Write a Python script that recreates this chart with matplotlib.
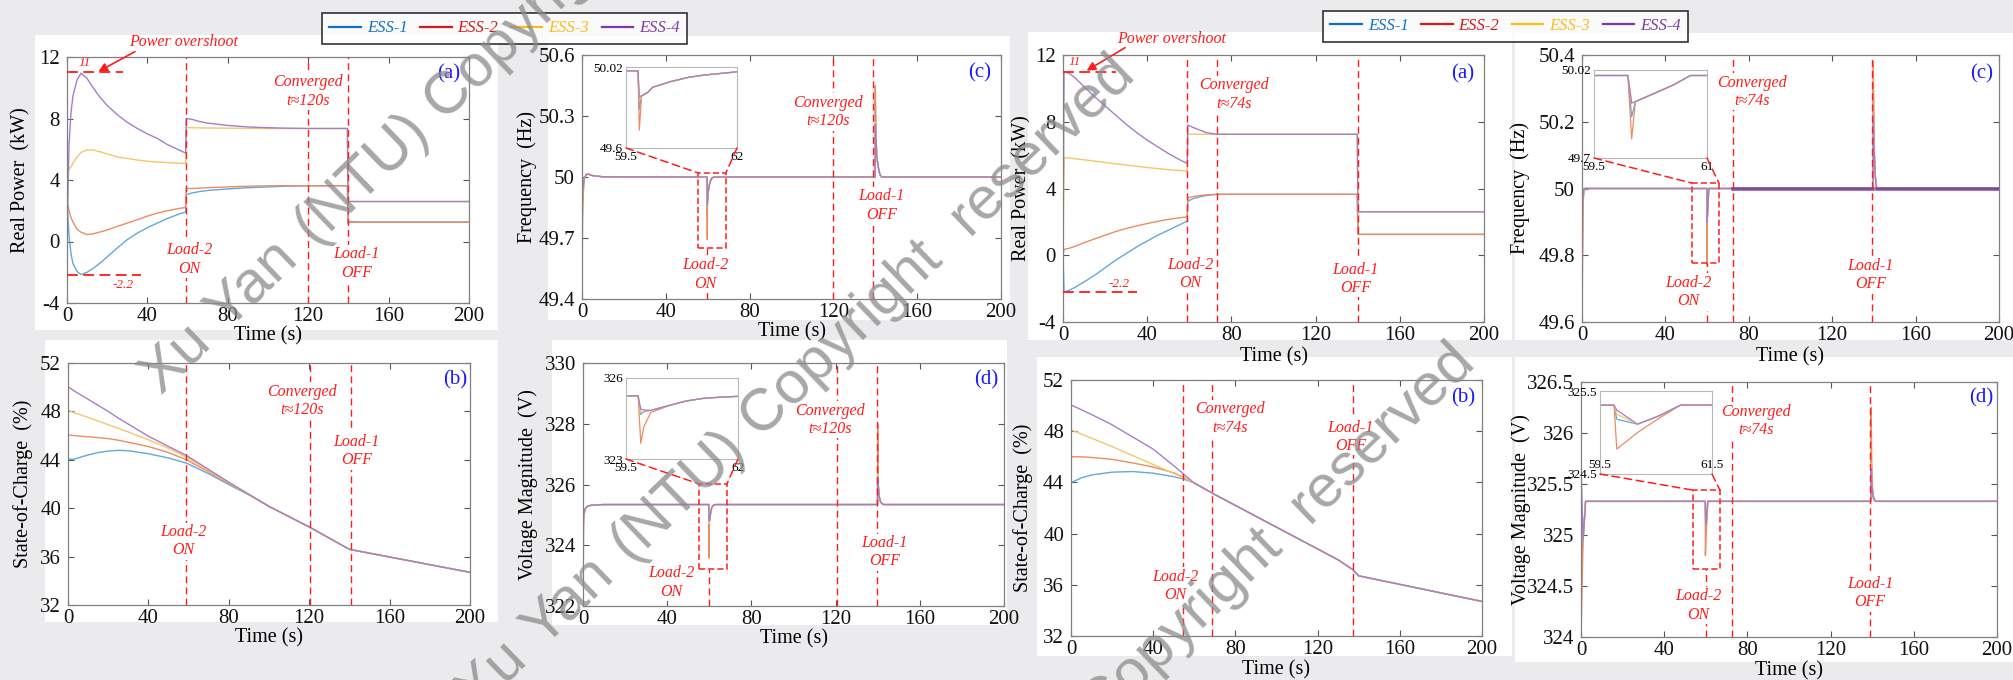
import numpy as np
import matplotlib
matplotlib.use('Agg')
import matplotlib.pyplot as plt
from matplotlib.lines import Line2D
from matplotlib.patches import Rectangle, ConnectionPatch
from matplotlib.ticker import FormatStrFormatter

W, H = 2013, 680
plt.rcParams['font.family'] = ['Liberation Serif', 'DejaVu Serif']
plt.rcParams['axes.unicode_minus'] = False

ESS_LABELS = ['ESS-1', 'ESS-2', 'ESS-3', 'ESS-4']
LEGEND_COLORS = ['#1071c4', '#d7191c', '#fdbb1a', '#7b3aa6']
LINE_COLORS = ['#62a8da', '#ec8c62', '#f4c76a', '#a67ec4']
RED = '#ff1c1c'

# ---------------- case 1: slow consensus (converged t ~ 120 s) ----------------
slow_power_t = [0, 1, 2, 3, 5, 7, 10, 13, 16, 20, 25, 30, 35, 40, 45, 50, 55, 59, 59.3,
                62, 66, 70, 80, 90, 100, 110, 120, 139.5, 139.8, 141, 145, 200]
slow_power = [
    [2.5, 0.4, -0.8, -1.45, -1.95, -2.15, -2.0, -1.75, -1.45, -1.0, -0.42, 0.12, 0.55, 0.9, 1.2,
     1.5, 1.75, 1.92, 3.05, 3.15, 3.25, 3.32, 3.42, 3.5, 3.55, 3.6, 3.62, 3.63, 1.15, 1.3, 1.27, 1.27],
    [2.6, 2.0, 1.55, 1.25, 0.8, 0.6, 0.45, 0.5, 0.6, 0.75, 0.98, 1.2, 1.42, 1.65, 1.85,
     2.0, 2.13, 2.22, 3.45, 3.45, 3.47, 3.5, 3.55, 3.6, 3.62, 3.63, 3.63, 3.63, 1.25, 1.25, 1.25, 1.25],
    [4.6, 4.7, 4.85, 5.1, 5.5, 5.8, 5.95, 5.95, 5.85, 5.7, 5.5, 5.4, 5.3, 5.22, 5.17,
     5.13, 5.1, 5.08, 7.4, 7.4, 7.39, 7.38, 7.37, 7.36, 7.35, 7.35, 7.35, 7.35, 2.6, 2.6, 2.6, 2.6],
    [0.0, 6.3, 8.4, 9.5, 10.5, 10.95, 10.6, 10.0, 9.45, 8.85, 8.25, 7.75, 7.35, 7.0, 6.7,
     6.3, 6.0, 5.75, 8.0, 7.95, 7.8, 7.7, 7.55, 7.45, 7.4, 7.37, 7.35, 7.35, 2.6, 2.6, 2.6, 2.6],
]

slow_soc_t = [0, 3, 10, 15, 20, 25, 30, 40, 50, 59, 70, 80, 90, 100, 120, 140, 200]
slow_soc = [
    [44.05, 44.05, 44.4, 44.6, 44.72, 44.78, 44.75, 44.5, 44.15, 43.72, 42.85, 41.95, 41.1, 40.15, 38.45, 36.6, 34.7],
    [46.05, 46.0, 45.9, 45.83, 45.75, 45.62, 45.45, 45.1, 44.6, 44.0, 43.0, 42.05, 41.12, 40.15, 38.45, 36.6, 34.7],
    [48.1, 47.9, 47.5, 47.2, 46.9, 46.6, 46.3, 45.65, 44.95, 44.2, 43.1, 42.1, 41.13, 40.15, 38.45, 36.6, 34.7],
    [50.05, 49.7, 49.0, 48.5, 48.0, 47.45, 46.95, 45.95, 45.1, 44.35, 43.2, 42.15, 41.15, 40.15, 38.45, 36.6, 34.7],
]

slow_freq_t = [0, 0.3, 1, 2, 3, 5, 10, 59.77, 59.8, 59.85, 60.0, 60.1, 60.5, 60.9, 61.25, 62, 63,
               139.9, 140.0, 140.3, 140.7, 141.4, 142.2, 143, 200]
slow_freq = [
    [49.6, 49.9, 49.99, 50.012, 50.014, 50.007, 50.001, 50.0, 49.80, 49.87, 49.89, 49.915, 49.944,
     49.966, 49.978, 49.995, 50.0, 50.0, 50.38, 50.21, 50.1, 50.05, 50.012, 50.0, 50.0],
    [49.44, 49.85, 49.99, 50.012, 50.014, 50.007, 50.001, 50.0, 49.693, 49.87, 49.89, 49.915, 49.944,
     49.966, 49.978, 49.995, 50.0, 50.0, 50.45, 50.22, 50.1, 50.05, 50.012, 50.0, 50.0],
    [49.69, 49.92, 49.99, 50.012, 50.014, 50.007, 50.001, 50.0, 49.865, 49.87, 49.89, 49.915, 49.944,
     49.966, 49.978, 49.995, 50.0, 50.0, 50.27, 50.2, 50.1, 50.05, 50.012, 50.0, 50.0],
    [49.72, 49.93, 49.99, 50.012, 50.014, 50.007, 50.001, 50.0, 49.866, 49.87, 49.89, 49.915, 49.944,
     49.966, 49.978, 49.995, 50.0, 50.0, 50.26, 50.2, 50.1, 50.05, 50.012, 50.0, 50.0],
]

slow_volt_t = [0, 0.3, 1, 2, 4, 10, 59.77, 59.83, 59.9, 60.05, 60.5, 60.85, 61.2, 61.6, 62, 63,
               139.9, 140.0, 140.3, 140.7, 141.4, 142.2, 143, 200]
slow_volt = [
    [323.8, 325.0, 325.2, 325.28, 325.32, 325.34, 325.34, 324.65, 324.75, 324.8, 325.0, 325.15,
     325.24, 325.29, 325.32, 325.34, 325.34, 327.2, 325.95, 325.6, 325.42, 325.36, 325.34, 325.34],
    [322.0, 324.85, 325.2, 325.28, 325.32, 325.34, 325.34, 323.58, 324.2, 324.72, 325.0, 325.15,
     325.24, 325.29, 325.32, 325.34, 325.34, 328.0, 326.05, 325.62, 325.42, 325.36, 325.34, 325.34],
    [324.0, 325.0, 325.2, 325.28, 325.32, 325.34, 325.34, 324.72, 324.78, 324.8, 325.0, 325.15,
     325.24, 325.29, 325.32, 325.34, 325.34, 326.35, 325.9, 325.6, 325.42, 325.36, 325.34, 325.34],
    [324.45, 325.0, 325.2, 325.28, 325.32, 325.34, 325.34, 324.85, 324.82, 324.8, 325.0, 325.15,
     325.24, 325.29, 325.32, 325.34, 325.34, 326.25, 325.9, 325.6, 325.42, 325.36, 325.34, 325.34],
]

# ---------------- case 2: fast consensus (converged t ~ 74 s) ----------------
fast_power_t = [0, 0.5, 3, 6, 10, 15, 20, 25, 30, 35, 40, 45, 50, 55, 59, 59.3,
                62, 65, 68, 73, 100, 139.8, 140.1, 200]
fast_power = [
    [0.0, -2.2, -2.1, -1.9, -1.6, -1.2, -0.75, -0.3, 0.1, 0.5, 0.85, 1.2, 1.5, 1.8, 2.05, 3.25,
     3.4, 3.5, 3.58, 3.65, 3.65, 3.65, 1.25, 1.25],
    [0.0, 0.35, 0.42, 0.55, 0.75, 0.98, 1.2, 1.42, 1.6, 1.76, 1.9, 2.03, 2.15, 2.24, 2.3, 3.45,
     3.52, 3.58, 3.62, 3.65, 3.65, 3.65, 1.25, 1.25],
    [0.0, 5.85, 5.83, 5.78, 5.72, 5.64, 5.56, 5.48, 5.4, 5.33, 5.26, 5.19, 5.13, 5.08, 5.05, 7.25,
     7.25, 7.25, 7.25, 7.25, 7.25, 7.25, 2.6, 2.6],
    [0.0, 11.0, 10.9, 10.6, 10.1, 9.5, 8.95, 8.4, 7.85, 7.35, 6.9, 6.5, 6.1, 5.75, 5.5, 7.8,
     7.65, 7.5, 7.35, 7.25, 7.25, 7.25, 2.6, 2.6],
]

fast_soc_t = [0, 5, 10, 20, 30, 40, 50, 55, 60, 70, 80, 90, 100, 110, 120, 130, 137, 140, 200]
fast_soc = [
    [43.98, 44.35, 44.58, 44.8, 44.85, 44.72, 44.45, 44.25, 43.95, 43.05, 42.2, 41.35, 40.5, 39.65, 38.8, 37.95, 37.2, 36.7, 34.7],
    [46.0, 46.0, 45.95, 45.8, 45.52, 45.2, 44.75, 44.4, 43.95, 43.05, 42.2, 41.35, 40.5, 39.65, 38.8, 37.95, 37.2, 36.7, 34.7],
    [48.1, 47.78, 47.45, 46.8, 46.1, 45.4, 44.7, 44.35, 43.95, 43.05, 42.2, 41.35, 40.5, 39.65, 38.8, 37.95, 37.2, 36.7, 34.7],
    [50.05, 49.68, 49.3, 48.5, 47.55, 46.6, 45.3, 44.62, 43.95, 43.05, 42.2, 41.35, 40.5, 39.65, 38.8, 37.95, 37.2, 36.7, 34.7],
]

fast_freq_t = [0, 0.5, 1, 59.95, 60.0, 60.05, 60.3, 60.55, 60.78, 72.6,
               139.6, 139.7, 140.1, 140.6, 141.3, 200]
fast_freq = [
    [49.7, 49.97, 50.0, 50.0, 49.85, 49.905, 49.935, 49.965, 50.0, 50.0, 50.0, 50.3, 50.12, 50.04, 50.0, 50.0],
    [49.6, 49.95, 50.0, 50.0, 49.77, 49.905, 49.935, 49.965, 50.0, 50.0, 50.0, 50.38, 50.13, 50.04, 50.0, 50.0],
    [49.83, 49.97, 50.0, 50.0, 49.9, 49.905, 49.935, 49.965, 50.0, 50.0, 50.0, 50.2, 50.12, 50.04, 50.0, 50.0],
    [49.87, 49.98, 50.0, 50.0, 49.9, 49.905, 49.935, 49.965, 50.0, 50.0, 50.0, 50.205, 50.12, 50.04, 50.0, 50.0],
]

fast_volt_t = [0, 1.0, 2.2, 59.75, 59.8, 60.17, 60.55, 60.94, 139.4, 139.5, 139.8, 140.2, 140.7, 141.5, 200]
fast_volt = [
    [324.7, 324.95, 325.33, 325.33, 325.16, 325.1, 325.2, 325.33, 325.33, 325.75, 325.55, 325.42, 325.36, 325.33, 325.33],
    [324.0, 324.95, 325.33, 325.33, 324.8, 325.0, 325.17, 325.33, 325.33, 326.25, 325.7, 325.45, 325.37, 325.33, 325.33],
    [325.0, 324.95, 325.33, 325.33, 325.22, 325.1, 325.2, 325.33, 325.33, 325.7, 325.5, 325.4, 325.35, 325.33, 325.33],
    [325.7, 324.95, 325.33, 325.33, 325.27, 325.1, 325.2, 325.33, 325.33, 325.65, 325.5, 325.4, 325.35, 325.33, 325.33],
]

POWER_TICKS = [-4, 0, 4, 8, 12]
SOC_TICKS = [32, 36, 40, 44, 48, 52]

# panel layout in pixels: (x0, y0, x1, y1)
panels = [
    dict(box=(67, 57, 469, 303), t=slow_power_t, ys=slow_power, ylim=(-4, 12), yticks=POWER_TICKS,
         ylabel='Real Power  (kW)', ylab_x=21, tag='(a)', tag_xy=(190, 10.9),
         events=(59.2, 120, 139.6), conv='Converged\nt≈120s', conv_xy=(120, 9.75),
         load2_xy=(61, -1.17), load1_xy=(144, -1.42),
         overshoot=dict(hi=11, lo=-2.2, hi_end=28, lo_end=37, hi_lab=(9, 11.6), lo_lab=(28, -2.83),
                        text=(58, 13.0), arrow_from=(33.8, 12.35), arrow_to=(15.6, 11.05))),
    dict(box=(68, 363, 470, 605), t=slow_soc_t, ys=slow_soc, ylim=(32, 52), yticks=SOC_TICKS,
         ylabel='State-of-Charge  (%)', ylab_x=23, tag='(b)', tag_xy=(192.4, 50.6),
         events=(58.5, 120.2, 140.6), conv='Converged\nt≈120s', conv_xy=(116.4, 48.85),
         load2_xy=(57.2, 37.27), load1_xy=(143.4, 44.73)),
    dict(box=(582, 55, 1001, 299), t=slow_freq_t, ys=slow_freq, ylim=(49.4, 50.6),
         yticks=[49.4, 49.7, 50, 50.3, 50.6], ylabel='Frequency  (Hz)', ylab_x=527, tag='(c)',
         tag_xy=(190, 50.51), events=(59.8, 119.9, 139), conv='Converged\nt≈120s',
         conv_xy=(117.6, 50.32), load2_xy=(59, 49.52), load1_xy=(143, 49.86),
         rect=(55.4, 49.65, 68.7, 50.02), inset=(626, 67, 737, 148), in_x=(59.5, 62), in_y=(49.6, 50.02)),
    dict(box=(583, 363, 1004, 606), t=slow_volt_t, ys=slow_volt, ylim=(322, 330),
         yticks=[322, 324, 326, 328, 330], ylabel='Voltage Magnitude  (V)', ylab_x=528, tag='(d)',
         tag_xy=(191.8, 329.43), events=(59.7, 120.7, 139.8), conv='Converged\nt≈120s',
         conv_xy=(117.3, 328.13), load2_xy=(42.1, 322.78), load1_xy=(143.1, 323.77),
         rect=(55.1, 323.22, 68.4, 326.02), inset=(626, 378, 738, 459), in_x=(59.5, 62), in_y=(323, 326)),
    dict(box=(1063, 55, 1484, 322), t=fast_power_t, ys=fast_power, ylim=(-4, 12), yticks=POWER_TICKS,
         ylabel='Real Power  (kW)', ylab_x=1022, tag='(a)', tag_xy=(190, 10.86),
         events=(59.1, 73, 140), conv='Converged\nt≈74s', conv_xy=(81.4, 9.63),
         load2_xy=(60.6, -1.13), load1_xy=(139, -1.41),
         overshoot=dict(hi=11, lo=-2.2, hi_end=25, lo_end=35, hi_lab=(5.7, 11.6), lo_lab=(26.8, -1.72),
                        text=(51.6, 12.94), arrow_from=(29.5, 12.44), arrow_to=(11.2, 11.06))),
    dict(box=(1071, 380, 1482, 636), t=fast_soc_t, ys=fast_soc, ylim=(32, 52), yticks=SOC_TICKS,
         ylabel='State-of-Charge  (%)', ylab_x=1023, tag='(b)', tag_xy=(190.9, 50.57),
         events=(54.5, 68.6, 137.4), conv='Converged\nt≈74s', conv_xy=(77.4, 49.0),
         load2_xy=(50.9, 35.92), load1_xy=(136, 47.57)),
    dict(box=(1582, 55, 1999, 322), t=fast_freq_t, ys=fast_freq, ylim=(49.6, 50.4),
         yticks=[49.6, 49.8, 50, 50.2, 50.4], ylabel='Frequency  (Hz)', ylab_x=1520, tag='(c)',
         tag_xy=(191.7, 50.343), events=(60.1, 72.6, 139.2), conv='Converged\nt≈74s',
         conv_xy=(81.4, 50.29), load2_xy=(51, 49.69), load1_xy=(138.4, 49.74),
         rect=(52.8, 49.777, 65.7, 50.016), inset=(1594, 70, 1707, 158), in_x=(59.5, 61), in_y=(49.7, 50.02),
         ripple=(72.6, 139.6, 141.3)),
    dict(box=(1581, 382, 1997, 637), t=fast_volt_t, ys=fast_volt, ylim=(324, 326.5),
         yticks=[324, 324.5, 325, 325.5, 326, 326.5], ylabel='Voltage Magnitude  (V)', ylab_x=1521,
         tag='(d)', tag_xy=(192.6, 326.34), events=(59.9, 72.8, 138.9), conv='Converged\nt≈74s',
         conv_xy=(84, 326.12), load2_xy=(56.4, 324.31), load1_xy=(139, 324.43),
         rect=(53.8, 324.67, 66.8, 325.44), inset=(1600, 391, 1712, 474), in_x=(59.5, 61.5),
         in_y=(324.5, 325.5), in_xpad=-11),
]

WHITE_AREAS = [(35, 35, 498, 330), (548, 36, 1010, 320), (45, 340, 498, 622), (552, 340, 1007, 625),
               (1028, 32, 1512, 340), (1515, 33, 2013, 340), (1037, 357, 1512, 656), (1515, 357, 2013, 662)]

# watermark: words placed along 44-degree lines, offsets (px) from the "(NTU)" word
MARK_WORDS = ['Xu', 'Yan', '(NTU)', 'Copyright', 'reserved']
MARK_OFFSETS = [-259, -152, 0, 227, 505]
MARK_ANCHORS = [(362, 178), (678, 495), (1018, 783)]
MARK_ANGLE = 44


def px_rect(x0, y0, x1, y1):
    return [x0 / W, 1 - y1 / H, (x1 - x0) / W, (y1 - y0) / H]


fig = plt.figure(figsize=(W / 100, H / 100), dpi=100, facecolor='#ebebed')
for area in WHITE_AREAS:
    x0, y, w, h = px_rect(*area)
    fig.add_artist(Rectangle((x0, y), w, h, transform=fig.transFigure,
                             facecolor='white', edgecolor='none', zorder=-5))

red_text = dict(color=RED, style='italic', fontsize=11.5, ha='center', va='center', linespacing=1.2)
dash = (0, (5, 3))

for p in panels:
    ax = fig.add_axes(px_rect(*p['box']))
    t = np.array(p['t'])
    for y, c in zip(p['ys'], LINE_COLORS):
        ax.plot(t, y, color=c, lw=1.0, zorder=2)
    if 'ripple' in p:
        t0, s0, s1 = p['ripple']
        keep = (t >= t0) & ((t <= s0) | (t >= s1))
        ax.plot(t, np.where(keep, p['ys'][3], np.nan), color='#7a3c9c', lw=2.6, alpha=0.85, zorder=2)

    ax.set_xlim(0, 200)
    ax.set_ylim(*p['ylim'])
    ax.set_xticks(np.arange(0, 201, 40))
    ax.set_yticks(p['yticks'])
    ax.yaxis.set_major_formatter(FormatStrFormatter('%g'))
    ax.tick_params(direction='in', top=True, right=True, length=4, width=0.8, color='#555555',
                   labelsize=15, labelcolor='#111111')
    ax.tick_params(axis='x', pad=3)
    ax.tick_params(axis='y', pad=5)
    for s in ax.spines.values():
        s.set_color('#808080')
        s.set_linewidth(0.9)
    ax.set_xlabel('Time (s)', fontsize=14.5)
    ax.xaxis.set_label_coords(0.5, -0.095)
    ax.set_ylabel(p['ylabel'], fontsize=14.5)
    ax.yaxis.label.set_va('center')
    x0, _, x1, _ = p['box']
    ax.yaxis.set_label_coords((p['ylab_x'] - x0) / (x1 - x0), 0.5)

    # event markers
    load2, conv, load1 = p['events']
    if 'rect' in p:
        rx0, ry0, rx1, ry1 = p['rect']
        ax.vlines(load2, p['ylim'][0], ry0, color=RED, lw=1.0, linestyles=[dash], zorder=3)
        ax.add_patch(Rectangle((rx0, ry0), rx1 - rx0, ry1 - ry0, fill=False, edgecolor=RED,
                               lw=1.1, ls=(0, (4, 2)), zorder=3))
    else:
        ax.axvline(load2, color=RED, lw=1.0, ls=dash, zorder=3)
    ax.axvline(conv, color=RED, lw=1.0, ls=dash, zorder=3)
    ax.axvline(load1, color=RED, lw=1.0, ls=dash, zorder=3)

    box = dict(facecolor='white', edgecolor='none', pad=1.0)
    ax.text(*p['conv_xy'], p['conv'], bbox=box, zorder=4, **red_text)
    ax.text(*p['load2_xy'], 'Load-2\nON', bbox=box, zorder=4, **red_text)
    ax.text(*p['load1_xy'], 'Load-1\nOFF', bbox=box, zorder=4, **red_text)
    ax.text(*p['tag_xy'], p['tag'], color='#1a1aff', fontsize=15, ha='center', va='center')

    if 'overshoot' in p:
        o = p['overshoot']
        ax.plot([0, o['hi_end']], [o['hi'], o['hi']], color=RED, lw=1.3, ls=(0, (6, 3)), zorder=3)
        ax.plot([0, o['lo_end']], [o['lo'], o['lo']], color=RED, lw=1.3, ls=(0, (6, 3)), zorder=3)
        ax.text(*o['hi_lab'], f"{o['hi']:g}", color=RED, style='italic', fontsize=9.5,
                ha='center', va='center')
        ax.text(*o['lo_lab'], f"{o['lo']:g}", color=RED, style='italic', fontsize=9.5,
                ha='center', va='center')
        ax.text(*o['text'], 'Power overshoot', clip_on=False, **red_text)
        ax.annotate('', xy=o['arrow_to'], xytext=o['arrow_from'], annotation_clip=False,
                    arrowprops=dict(arrowstyle='-|>', color=RED, lw=1.2, mutation_scale=13,
                                    shrinkA=0, shrinkB=0))

    if 'inset' in p:
        ins = fig.add_axes(px_rect(*p['inset']))
        for y, c in zip(p['ys'], LINE_COLORS):
            ins.plot(t, y, color=c, lw=0.9)
        ins.set_xlim(*p['in_x'])
        ins.set_ylim(*p['in_y'])
        ins.set_xticks(p['in_x'])
        ins.set_yticks(p['in_y'])
        ins.xaxis.set_major_formatter(FormatStrFormatter('%g'))
        ins.yaxis.set_major_formatter(FormatStrFormatter('%g'))
        ins.tick_params(length=0, labelsize=9.5, pad=2)
        if 'in_xpad' in p:
            ins.tick_params(axis='x', pad=p['in_xpad'])
        for s in ins.spines.values():
            s.set_color('#b8b8b8')
            s.set_linewidth(0.8)
        rx0, ry0, rx1, ry1 = p['rect']
        for corner, target in (((0, 0), (rx0, ry1)), ((1, 0), (rx1, ry1))):
            fig.add_artist(ConnectionPatch(xyA=corner, coordsA=ins.transAxes, xyB=target,
                                           coordsB=ax.transData, color=RED, lw=1.1,
                                           ls=(0, (5, 3)), zorder=5))

# legends above each case
handles = [Line2D([], [], color=c, lw=1.6) for c in LEGEND_COLORS]
for cx, cy in ((504.5, 28.5), (1505.5, 26)):
    leg = fig.legend(handles, ESS_LABELS, loc='center', bbox_to_anchor=(cx / W, 1 - cy / H), ncol=4,
                     frameon=True, fancybox=False, edgecolor='black', borderaxespad=0,
                     prop={'family': 'Liberation Serif', 'style': 'italic', 'size': 12},
                     handlelength=1.9, handletextpad=0.35, columnspacing=0.75, borderpad=0.45)
    leg.get_frame().set_linewidth(1.2)
    for txt, c in zip(leg.get_texts(), LEGEND_COLORS):
        txt.set_color(c)

# diagonal watermark
ux, uy = np.cos(np.radians(MARK_ANGLE)), -np.sin(np.radians(MARK_ANGLE))
for axp, ayp in MARK_ANCHORS:
    for word, off in zip(MARK_WORDS, MARK_OFFSETS):
        wx, wy = axp + off * ux, ayp + off * uy
        fig.text(wx / W, 1 - wy / H, word, rotation=MARK_ANGLE, rotation_mode='anchor',
                 ha='center', va='center', fontsize=43, family='Liberation Sans',
                 color='#8a8a8a', alpha=0.75, zorder=50)

fig.savefig('out.png', dpi=100, facecolor=fig.get_facecolor())
